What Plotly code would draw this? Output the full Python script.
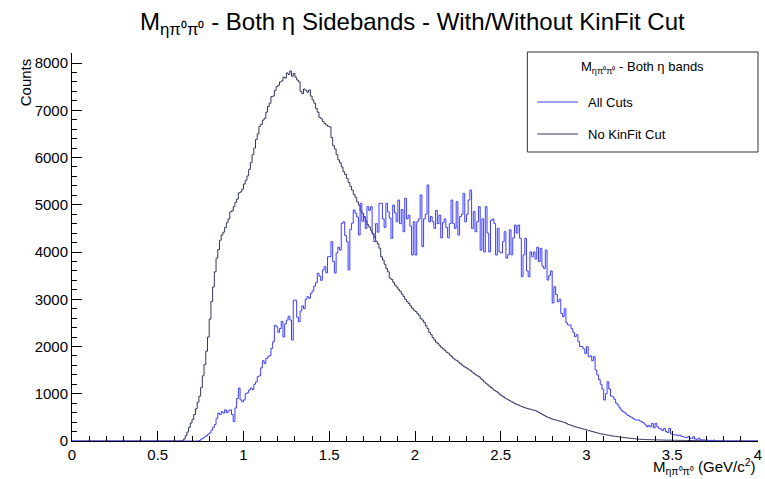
import numpy as np
import plotly.graph_objects as go

# ---------------- data ----------------
X_MIN, X_MAX, BIN_W = 0.0, 4.0, 0.01

# "No KinFit Cut" histogram, bins starting at 0.64
nokin_start = 0.64
nokin_counts = [
    5, 40, 110, 190, 290, 380,
    460, 560, 680, 820, 950, 1130, 1380, 1620, 1900, 2200,
    2580, 2950, 3260, 3580, 3870, 4050, 4250, 4360, 4420, 4520,
    4620, 4700, 4850, 4870, 4960, 5050, 5120, 5250, 5270, 5330,
    5440, 5520, 5610, 5750, 5890, 6060, 6200, 6380, 6500, 6660,
    6700, 6790, 6830, 6960, 7080, 7150, 7290, 7300, 7420, 7500,
    7530, 7600, 7620, 7700, 7680, 7790, 7760, 7830, 7720, 7780,
    7700, 7640, 7600, 7400, 7350, 7450, 7420, 7380, 7430, 7300,
    7220, 7150, 7040, 6960, 6850, 6820, 6760, 6720, 6690, 6660,
    6650, 6420, 6250, 6180, 6060, 5950, 5890, 5800, 5700, 5640,
    5560, 5470, 5390, 5310, 5220, 5160, 5060, 4990, 4870, 4820,
    4740, 4660, 4580, 4530, 4460, 4380, 4310, 4230, 4170, 4080,
    3900, 3830, 3740, 3650, 3580, 3450, 3420, 3360, 3300, 3260,
    3210, 3170, 3110, 3060, 3000, 2950, 2910, 2860, 2810, 2770,
    2740, 2700, 2660, 2590, 2560, 2510, 2440, 2380, 2300, 2250,
    2190, 2140, 2090, 2060, 2020, 1980, 1950, 1920, 1880, 1860,
    1820, 1790, 1750, 1720, 1700, 1670, 1640, 1610, 1580, 1560,
    1540, 1510, 1490, 1460, 1430, 1400, 1380, 1360, 1320, 1290,
    1250, 1220, 1190, 1160, 1130, 1100, 1070, 1050, 1020, 990,
    960, 940, 910, 890, 870, 850, 830, 810, 790, 770,
    760, 740, 730, 710, 700, 690, 680, 670, 660, 650,
    640, 620, 600, 580, 560, 540, 520, 500, 490, 470,
    460, 450, 440, 430, 420, 410, 400, 390, 370, 350,
    340, 330, 315, 300, 290, 280, 270, 260, 250, 240,
    230, 220, 210, 200, 190, 180, 170, 160, 150, 145,
    140, 130, 125, 120, 110, 105, 100, 95, 90, 85,
    80, 75, 70, 66, 62, 58, 54, 50, 46, 42,
    38, 36, 34, 32, 30, 29, 28, 27, 26, 25,
    24, 23, 22, 21, 20, 19, 18, 18, 17, 17,
    16, 15, 15, 14, 13, 13, 12, 12, 11, 11,
    10, 10, 9, 9, 8, 8, 7, 7, 6, 6,
    5, 5, 4, 4, 3, 3, 2, 2, 1, 1,
]

# "All Cuts" histogram, bins starting at 0.72
allcuts_start = 0.72
allcuts_counts = [
    0, 0, 10, 40, 60, 90, 110, 140,
    170, 230, 290, 350, 480, 590, 560, 620, 590, 660,
    600, 640, 660, 560, 410, 700, 900, 1120, 870, 830,
    870, 1000, 1020, 1080, 1120, 1090, 1200, 1250, 1360, 1380,
    1550, 1700, 1640, 1750, 1780, 1810, 1960, 2100, 2450, 2420,
    2300, 2380, 2530, 2200, 2480, 2560, 2640, 2560, 2137, 2980,
    2980, 2620, 2525, 2750, 2860, 2800, 3000, 3054, 3020, 3126,
    3180, 3280, 3350, 3550, 3490, 3400, 3620, 3689, 3560, 3900,
    3900, 4218, 3800, 3555, 3980, 4100, 4042, 4608, 4640, 4350,
    4218, 3620, 4480, 4610, 4890, 4820, 4740, 4360, 5030, 4650,
    4750, 4500, 4960, 4880, 4960, 4395, 4218, 4600, 4420, 5030,
    5030, 4700, 4520, 5030, 4850, 4720, 4290, 4995, 4830, 4640,
    5100, 4600, 4900, 4430, 5136, 4700, 4780, 4550, 3936, 4640,
    3936, 4640, 4700, 5206, 4112, 4700, 4800, 5418, 4640, 4750,
    4640, 4500, 4880, 4600, 4780, 4300, 4620, 4700, 4520, 4300,
    4600, 5100, 4600, 4500, 5065, 4360, 4750, 4800, 5240, 4640,
    4800, 5100, 5312, 4500, 4860, 4430, 4640, 4960, 4040, 4700,
    4000, 4960, 4400, 4000, 4670, 4700, 4600, 3936, 4500, 4000,
    3980, 4218, 4430, 3870, 3940, 4470, 3940, 4300, 4570, 4400,
    4570, 4290, 3477, 3940, 4290, 3600, 3477, 4000, 3900, 4000,
    3850, 4100, 3800, 4078, 3700, 3650, 4042, 3407, 3500, 3600,
    2920, 3266, 3100, 2948, 3000, 2700, 2631, 2800, 2500, 2455,
    2455, 2380, 2300, 2208, 2250, 2100, 2000, 1996, 1950, 1850,
    1996, 1784, 1800, 1700, 1784, 1503, 1400, 1300, 1200, 1100,
    868, 1000, 1255, 1100, 950, 937, 880, 800, 760, 700,
    650, 620, 600, 560, 540, 514, 500, 470, 450, 444,
    444, 420, 400, 380, 340, 303, 330, 300, 374, 280,
    374, 300, 268, 250, 220, 268, 200, 180, 268, 150,
    140, 127, 130, 110, 127, 100, 90, 80, 70, 91,
    60, 50, 91, 40, 35, 60, 30, 20, 25, 15,
    20, 10, 15, 8, 20, 5, 3, 2, 0, 0,
]

title_text = "M<sub>ηπ⁰π⁰</sub> - Both η Sidebands - With/Without KinFit Cut"
legend_header = "M<sub>ηπ⁰π⁰</sub> - Both η bands"
series_names = ["All Cuts", "No KinFit Cut"]
x_title = "M<sub>ηπ⁰π⁰</sub> (GeV/c<sup>2</sup>)"
y_title = "Counts"

COL_ALL = "#3c3cff"
COL_NOKIN = "#34345e"

# ---------------- build full histograms ----------------
n_bins = int(round((X_MAX - X_MIN) / BIN_W))
edges = X_MIN + BIN_W * np.arange(n_bins + 1)


def full_hist(start, counts):
    h = np.zeros(n_bins)
    i0 = int(round((start - X_MIN) / BIN_W))
    h[i0:i0 + len(counts)] = counts
    return h


def step_xy(h):
    return edges, np.append(h, h[-1])


h_nokin = full_hist(nokin_start, nokin_counts)
h_all = full_hist(allcuts_start, allcuts_counts)

fig = go.Figure()
xs, ys = step_xy(h_nokin)
fig.add_trace(go.Scatter(x=xs, y=ys, mode="lines", line=dict(shape="hv", color=COL_NOKIN, width=1),
                         name=series_names[1], showlegend=False))
xs, ys = step_xy(h_all)
fig.add_trace(go.Scatter(x=xs, y=ys, mode="lines", line=dict(shape="hv", color=COL_ALL, width=1),
                         name=series_names[0], showlegend=False))

W, H = 765, 479
ML, MR, MT, MB = 72, 3, 53, 38
PW, PH = W - ML - MR, H - MT - MB


def px(xp):
    return (xp - ML) / PW


def py(yp):
    return (H - MB - yp) / PH


FONT = "Liberation Sans, Arial, Helvetica, sans-serif"

axis_common = dict(showgrid=False, zeroline=False, showline=True, linecolor="black", linewidth=1,
                   ticks="inside", tickcolor="black", tickwidth=1, mirror=False,
                   ticklabeloverflow="allow",
                   tickfont=dict(family=FONT, size=15, color="black"))

fig.update_layout(
    width=W, height=H,
    margin=dict(l=ML, r=MR, t=MT, b=MB),
    paper_bgcolor="white", plot_bgcolor="white",
    font=dict(family=FONT, color="black"),
    showlegend=False,
    xaxis=dict(range=[X_MIN, X_MAX], dtick=0.5, ticklen=10,
               minor=dict(dtick=0.1, ticks="inside", ticklen=5, tickcolor="black"),
               **axis_common),
    yaxis=dict(range=[0, 8212], dtick=1000, ticklen=10,
               minor=dict(dtick=200, ticks="inside", ticklen=5, tickcolor="black"),
               **axis_common),
)

annotations = [
    dict(text=title_text, x=px(414), y=py(23), xref="paper", yref="paper", xanchor="center", yanchor="middle",
         showarrow=False, font=dict(family=FONT, size=24, color="black")),
    dict(text=y_title, x=px(26), y=py(56), xref="paper", yref="paper", xanchor="center", yanchor="top",
         textangle=-90, showarrow=False, font=dict(family=FONT, size=15, color="black")),
    dict(text=x_title, x=1.0, y=py(466), xref="paper", yref="paper", xanchor="right", yanchor="middle",
         showarrow=False, font=dict(family=FONT, size=15, color="black")),
    dict(text=legend_header, x=px(646), y=py(68), xref="paper", yref="paper", xanchor="center", yanchor="middle",
         showarrow=False, font=dict(family=FONT, size=13, color="black")),
    dict(text=series_names[0], x=px(589), y=py(102), xref="paper", yref="paper", xanchor="left", yanchor="middle",
         showarrow=False, font=dict(family=FONT, size=13, color="black")),
    dict(text=series_names[1], x=px(589), y=py(134), xref="paper", yref="paper", xanchor="left", yanchor="middle",
         showarrow=False, font=dict(family=FONT, size=13, color="black")),
]
fig.update_layout(annotations=annotations)

shapes = [
    dict(type="rect", xref="paper", yref="paper", x0=px(530), x1=px(762), y0=py(152), y1=py(52),
         line=dict(color="#333333", width=1), fillcolor="white", layer="above"),
    dict(type="line", xref="paper", yref="paper", x0=px(540), x1=px(581), y0=py(102), y1=py(102),
         line=dict(color=COL_ALL, width=1), layer="above"),
    dict(type="line", xref="paper", yref="paper", x0=px(540), x1=px(581), y0=py(134), y1=py(134),
         line=dict(color=COL_NOKIN, width=1), layer="above"),
]
fig.update_layout(shapes=shapes)

fig.write_html("out.html")
